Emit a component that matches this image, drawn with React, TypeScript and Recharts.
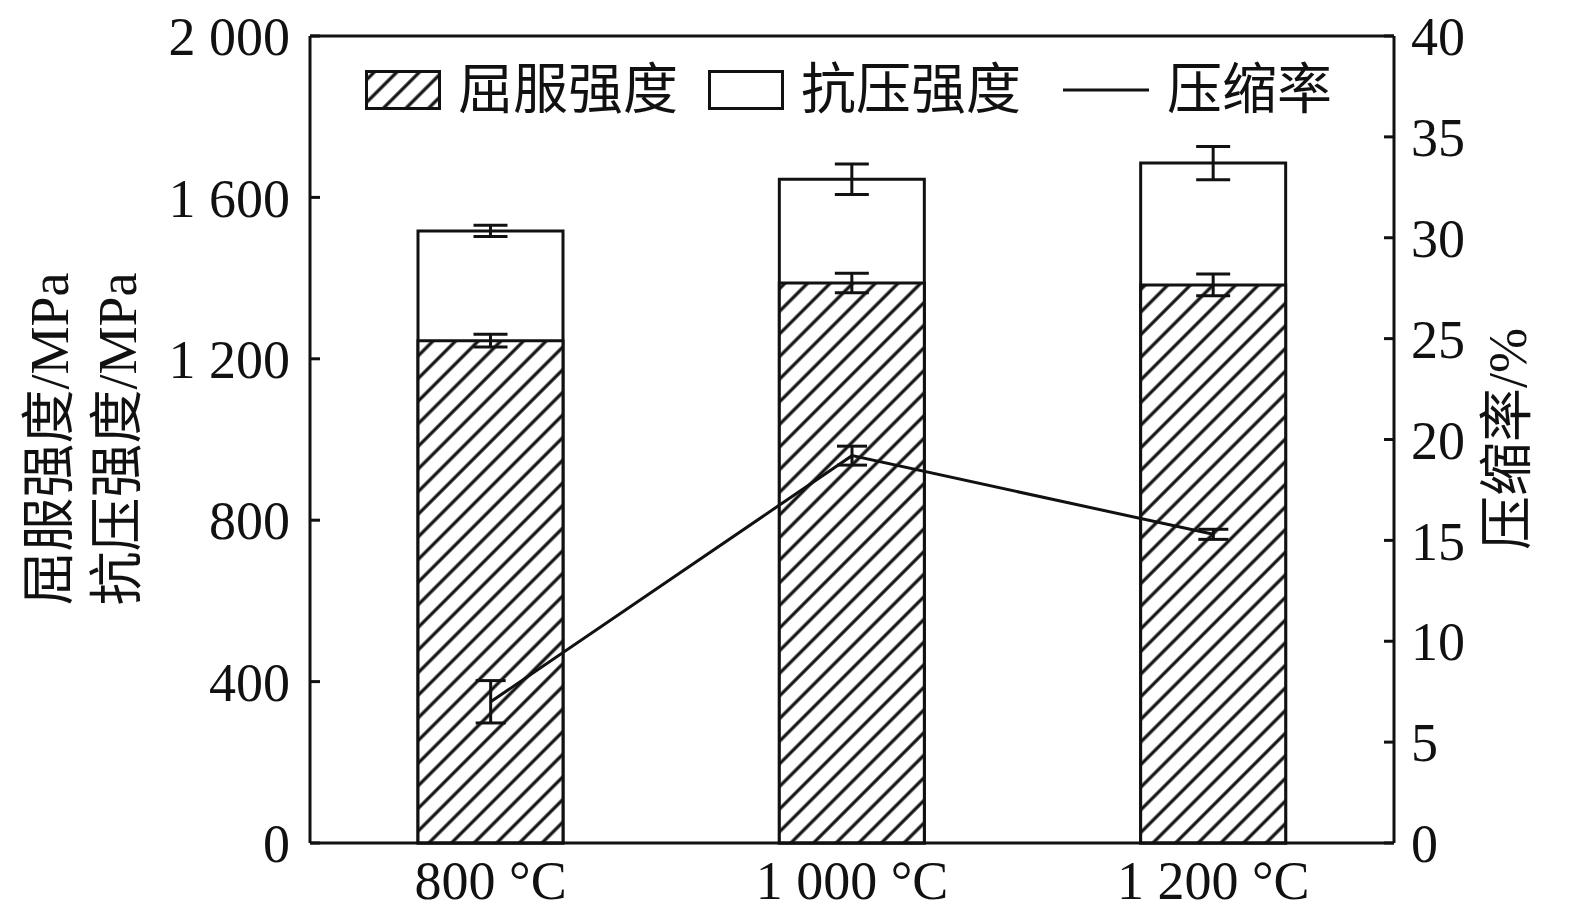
import React from "react";
import {
  ComposedChart,
  Bar,
  Line,
  XAxis,
  YAxis,
  ErrorBar,
  Legend,
  ReferenceLine,
} from "recharts";

const categories = ["800 °C", "1 000 °C", "1 200 °C"];
const yieldStrength = [1245, 1388, 1383];
const yieldErr = [16, 24, 27];
const compStrength = [1517, 1645, 1685];
const compErr = [14, 38, 41];
const compressRate = [7.0, 19.2, 15.3];
const compressRateErr = [1.05, 0.47, 0.25];

const leftTicks = [0, 400, 800, 1200, 1600, 2000];
const rightTicks = [0, 5, 10, 15, 20, 25, 30, 35, 40];

const data = categories.map((name, i) => ({
  name,
  yield: yieldStrength[i],
  yieldErr: yieldErr[i],
  comp: compStrength[i],
  compErr: compErr[i],
  rate: compressRate[i],
  rateErr: compressRateErr[i],
}));

const FONT = "'Liberation Serif', 'Noto Sans CJK SC', serif";
const SW = 3;

const fmt = (v: number) => String(v).replace(/\B(?=(\d{3})+(?!\d))/g, " ");

function Hatch({ id }: { id: string }) {
  return (
    <pattern
      id={id}
      width="16"
      height="16"
      patternUnits="userSpaceOnUse"
      patternTransform="rotate(45)"
    >
      <rect width="16" height="16" fill="#fff" />
      <line x1="8" y1="0" x2="8" y2="16" stroke="#111" strokeWidth="3.2" />
    </pattern>
  );
}

function LegendBox() {
  const text: React.CSSProperties = {
    fontFamily: FONT,
    fontSize: 55,
    lineHeight: "55px",
    color: "#111",
  };
  return (
    <div style={{ display: "flex", alignItems: "center", whiteSpace: "nowrap" }}>
      <svg width={76} height={40} style={{ marginRight: 17 }}>
        <defs>
          <Hatch id="hatchLegend" />
        </defs>
        <rect x={1.5} y={1.5} width={73} height={37} fill="url(#hatchLegend)" stroke="#111" strokeWidth={SW} />
      </svg>
      <span style={{ ...text, marginRight: 30 }}>屈服强度</span>
      <svg width={76} height={40} style={{ marginRight: 17 }}>
        <rect x={1.5} y={1.5} width={73} height={37} fill="#fff" stroke="#111" strokeWidth={SW} />
      </svg>
      <span style={{ ...text, marginRight: 42 }}>抗压强度</span>
      <svg width={86} height={40} style={{ marginRight: 18 }}>
        <line x1={0} y1={20} x2={86} y2={20} stroke="#111" strokeWidth={SW} />
      </svg>
      <span style={text}>压缩率</span>
    </div>
  );
}

export default function App() {
  const tickStyle = { fill: "#111", fontSize: 54, fontFamily: FONT };
  return (
    <div style={{ position: "relative", width: 1560, height: 910 }}>
      <ComposedChart
        width={1560}
        height={910}
        data={data}
        margin={{ top: 28, right: 0, bottom: 0, left: 0 }}
        barSize={145}
        barGap={-145}
      >
        <defs>
          <Hatch id="hatchBar" />
        </defs>
        <XAxis
          dataKey="name"
          height={75}
          tickLine={false}
          tickSize={0}
          tickMargin={18}
          axisLine={{ stroke: "#111", strokeWidth: SW }}
          tick={tickStyle}
        />
        <YAxis
          yAxisId="left"
          width={302}
          domain={[0, 2000]}
          ticks={leftTicks}
          tickFormatter={fmt}
          tickSize={-10}
          tickMargin={30}
          interval={0}
          axisLine={{ stroke: "#111", strokeWidth: SW }}
          tickLine={{ stroke: "#111", strokeWidth: SW }}
          tick={tickStyle}
        />
        <YAxis
          yAxisId="right"
          orientation="right"
          width={174}
          domain={[0, 40]}
          ticks={rightTicks}
          tickSize={-10}
          tickMargin={27}
          interval={0}
          axisLine={{ stroke: "#111", strokeWidth: SW }}
          tickLine={{ stroke: "#111", strokeWidth: SW }}
          tick={tickStyle}
        />
        <ReferenceLine yAxisId="left" y={2000} stroke="#111" strokeWidth={SW} />
        <Bar
          yAxisId="left"
          dataKey="comp"
          name="抗压强度"
          fill="#fff"
          stroke="#111"
          strokeWidth={SW}
          isAnimationActive={false}
        >
          <ErrorBar dataKey="compErr" width={17} stroke="#111" strokeWidth={SW} direction="y" />
        </Bar>
        <Bar
          yAxisId="left"
          dataKey="yield"
          name="屈服强度"
          fill="url(#hatchBar)"
          stroke="#111"
          strokeWidth={SW}
          isAnimationActive={false}
        >
          <ErrorBar dataKey="yieldErr" width={17} stroke="#111" strokeWidth={SW} direction="y" />
        </Bar>
        <Line
          yAxisId="right"
          dataKey="rate"
          name="压缩率"
          stroke="#111"
          strokeWidth={SW}
          dot={false}
          isAnimationActive={false}
        >
          <ErrorBar dataKey="rateErr" width={15} stroke="#111" strokeWidth={SW} direction="y" />
        </Line>
        <Legend
          content={() => <LegendBox />}
          verticalAlign="middle"
          align="center"
          wrapperStyle={{ top: 54, left: 357, width: "auto" }}
        />
      </ComposedChart>
      <div
        style={{
          position: "absolute",
          left: 76 - 250,
          top: 431 - 68,
          width: 500,
          height: 136,
          transform: "rotate(-90deg)",
          textAlign: "center",
          fontFamily: FONT,
          fontSize: 54,
          lineHeight: "68px",
          color: "#111",
        }}
      >
        屈服强度/MPa
        <br />
        抗压强度/MPa
      </div>
      <div
        style={{
          position: "absolute",
          left: 1500 - 200,
          top: 431 - 34,
          width: 400,
          height: 68,
          transform: "rotate(-90deg)",
          textAlign: "center",
          fontFamily: FONT,
          fontSize: 54,
          lineHeight: "68px",
          color: "#111",
        }}
      >
        压缩率/%
      </div>
    </div>
  );
}
